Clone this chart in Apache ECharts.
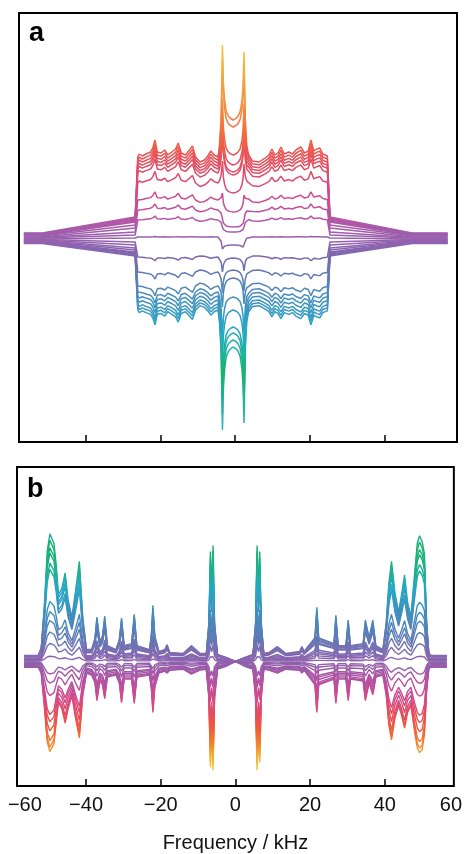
<!DOCTYPE html>
<html>
<head>
<meta charset="utf-8">
<script src="https://cdn.jsdelivr.net/npm/echarts@6/dist/echarts.min.js"></script>
<style>
  html, body { margin: 0; padding: 0; background: #fff; }
  #chart { width: 465px; height: 854px; }
</style>
</head>
<body>
<div id="chart"></div>
<script>
// ---------- panel a: one entry per trace, top to bottom (a.u., 0 = baseline) ----------
var plateauA = [82, 79, 76, 73, 70, 66, 56, 39, 29, 19, 2, -18, -33, -47, -53, -57, -61, -65, -68, -71];
var centreA  = [119, 112, 84, 74, 67, 64, 46, 27, 12, 7, -6, -19, -31, -39, -58, -71, -88, -94, -101, -108];
var peakLA   = [194, 180, 140, 125, 112, 107, 78, 46, 20, 12, -10, -33, -54, -68, -100, -123, -152, -163, -175, -191];
var peakRA   = [187, 173, 135, 120, 108, 103, 75, 44, 19, 12, -10, -32, -52, -65, -96, -118, -146, -157, -168, -184];
var wingA    = [22, 21, 20, 19, 18, 17, 14, 11, 7, 4, 1, -3, -6, -9, -11, -13, -14, -15, -16, -17];
var farA     = [6, 5.5, 5, 4.5, 4, 3.5, 3, 2, 1.5, 1, 0, -0.5, -1, -1.5, -2, -2.5, -3, -3.5, -4, -4.5];

// shared shape of panel a (frequencies in kHz)
var wingFreqLA = [-56.4, -51.5, -26.7];
var wingFreqRA = [25.3, 47.2, 56.7];
var peakFreqA = [-3.4, 2.35];
var centreFreqA = -0.55;
// ripple of the top trace on the plateau, relative to its level
var rippleFreqA = [-26.0, -25.6, -24.8, -23.8, -22.6, -22.0, -21.4, -20.8, -19.8, -18.8, -18.0, -16.9,
  -15.9, -15.2, -14.4, -13.3, -12.2, -11.4, -10.6, -9.4, -8.2, -7.3, -6.5, -5.6, -4.6,
  3.6, 4.6, 6.4, 8.0, 9.0, 9.8, 10.6, 11.4, 12.2, 13.1, 14.3, 15.3, 16.2, 17.5, 18.5, 19.5,
  20.2, 21.0, 21.8, 22.6, 23.4, 24.6];
var rippleA = [0, 3, 1, 3, 5, 9, 17, 5, 4, 7, 2, 5,
  8, 14, 4, 2, 7, 11, 0, -5, -3, 1, 6, 2, 0,
  2, -4, -5, -1, 2, 8, 2, 4, 10, 3, 5, 3, 7, 10, 4, 6,
  17, 6, 8, 9, 3, 1];
// fraction of the way from plateau to peak just outside each peak
var shoulderFreqLA = [-4.2, -3.75];
var shoulderLA = [0.1, 0.35];
var shoulderFreqRA = [2.7, 3.1];
var shoulderRA = [0.35, 0.1];
// fraction of the way from centre level to peak between the two peaks
var cupFreqA = [-3.15, -2.85, -2.4, -1.8, -1.2, -0.55, 0.1, 0.7, 1.3, 1.8, 2.1];
var cupA = [0.5, 0.28, 0.12, 0.05, 0.02, 0, 0.02, 0.05, 0.12, 0.28, 0.5];

// ---------- panel b: top and bottom traces, plus scale of every other trace ----------
var freqB = [-56.6, -52.8, -52.0, -51.2, -50.4, -49.7, -49.2, -48.6, -48.0, -47.4, -46.5, -45.6, -44.8,
  -43.8, -42.8, -41.8, -40.9, -39.9, -38.5, -37.6, -37.1, -36.3, -35.6, -35.0, -34.3, -32.0, -31.1,
  -30.5, -29.8, -27.8, -27.1, -26.4, -23.0, -22.5, -22.1, -21.6, -20.5, -18.9, -18.3, -17.6, -14.0,
  -11.8, -9.5, -7.8, -7.1, -6.7, -6.35, -6.0, -5.6, -4.8, -2.5, 0, 2.5, 4.7, 5.4, 5.8, 6.15, 6.5,
  6.9, 7.6, 9.0, 11.2, 13.5, 17.2, 17.8, 18.4, 21.3, 21.8, 22.3, 26.4, 26.9, 27.5, 29.6, 30.2, 30.8,
  34.2, 34.8, 35.8, 36.8, 37.6, 39.5, 40.4, 41.1, 41.8, 42.7, 43.7, 44.5, 45.3, 46.1, 47.0, 48.0,
  48.7, 49.3, 50.0, 50.6, 51.2, 51.8, 52.5, 56.6];
var topB = [6, 6, 14, 55, 112, 130, 132, 120, 98, 68, 74, 90, 62,
  45, 72, 102, 45, 12, 12, 24, 45, 20, 26, 46, 16, 12, 22,
  44, 16, 18, 48, 16, 12, 28, 57, 26, 10, 12, 17, 9, 8,
  16, 8, 8, 40, 112, 70, 118, 40, 7, 4, 0, 4, 7, 40, 118, 70, 112,
  40, 8, 9, 15, 8, 10, 15, 10, 24, 55, 24, 18, 47, 16, 16, 42, 16,
  18, 42, 24, 42, 16, 12, 40, 80, 102, 70, 50, 68, 88, 60, 45, 90,
  120, 128, 122, 110, 40, 8, 6, 6];
var bottomB = [-6, -6, -12, -45, -82, -92, -93, -84, -62, -42, -48, -63, -48,
  -35, -58, -78, -35, -12, -14, -22, -40, -20, -24, -38, -16, -14, -22,
  -42, -18, -18, -43, -16, -14, -28, -52, -26, -12, -10, -12, -9, -8,
  -13, -9, -8, -38, -108, -70, -111, -38, -8, -5, 0, -5, -8, -38, -111, -70, -103,
  -38, -8, -9, -12, -8, -9, -12, -9, -24, -52, -24, -18, -43, -18, -18, -40, -18,
  -20, -40, -22, -34, -16, -14, -35, -65, -80, -58, -45, -55, -68, -52, -45, -72,
  -88, -93, -90, -75, -30, -7, -6, -6];
var upB = [1, 0.95, 0.89, 0.85, 0.77, 0.72, 0.47, 0.39, 0.32, 0.23, 0.14, 0.04];
var downB = [0.14, 0.24, 0.38, 0.59, 0.67, 0.77, 0.88, 0.95, 1];

// axis ticks and labels
var ticks = [-40, -20, 0, 20, 40];
var labelPosB = [-56.4, -40, -20, 0, 20, 40, 57.7];
var labelTextB = ['\u221260', '\u221240', '\u221220', '0', '20', '40', '60'];

var font = '"Liberation Sans", Arial, Helvetica, sans-serif';

function traceA(i) {
  var p = plateauA[i], s = p / plateauA[0];
  var pts = [[wingFreqLA[0], farA[i]], [wingFreqLA[1], farA[i]], [wingFreqLA[2], wingA[i]]];
  rippleFreqA.forEach(function (f, k) { if (f < 0) pts.push([f, p + rippleA[k] * s]); });
  shoulderFreqLA.forEach(function (f, k) { pts.push([f, p + shoulderLA[k] * (peakLA[i] - p)]); });
  pts.push([peakFreqA[0], peakLA[i]]);
  cupFreqA.forEach(function (f, k) {
    var pk = f < centreFreqA ? peakLA[i] : peakRA[i];
    pts.push([f, centreA[i] + cupA[k] * (pk - centreA[i])]);
  });
  pts.push([peakFreqA[1], peakRA[i]]);
  shoulderFreqRA.forEach(function (f, k) { pts.push([f, p + shoulderRA[k] * (peakRA[i] - p)]); });
  rippleFreqA.forEach(function (f, k) { if (f > 0) pts.push([f, p + rippleA[k] * s]); });
  pts.push([wingFreqRA[0], wingA[i]], [wingFreqRA[1], farA[i]], [wingFreqRA[2], farA[i]]);
  return pts;
}

function traceB(profile, k) {
  return freqB.map(function (f, j) { return [f, profile[j] * k]; });
}

var G = echarts.graphic.LinearGradient;
var colA = new G(0, 13, 0, 442, [
  { offset: 0.075, color: '#f4c430' }, { offset: 0.156, color: '#f6a53b' },
  { offset: 0.238, color: '#f3843b' }, { offset: 0.296, color: '#ef6341' },
  { offset: 0.336, color: '#e84f55' }, { offset: 0.389, color: '#dc4a74' },
  { offset: 0.436, color: '#cb4c93' }, { offset: 0.483, color: '#b455a6' },
  { offset: 0.527, color: '#9760ae' }, { offset: 0.576, color: '#7769b0' },
  { offset: 0.627, color: '#5682b8' }, { offset: 0.681, color: '#3c95bf' },
  { offset: 0.739, color: '#28a7c6' }, { offset: 0.795, color: '#1db39a' },
  { offset: 0.835, color: '#15b36b' }, { offset: 0.895, color: '#1db39c' },
  { offset: 0.972, color: '#2cadc9' }
], true);
var colB = new G(0, 467, 0, 792, [
  { offset: 0.203, color: '#2aa8b5' }, { offset: 0.24, color: '#17b06c' },
  { offset: 0.317, color: '#1bb08e' }, { offset: 0.378, color: '#27a7c5' },
  { offset: 0.446, color: '#3c8fbf' }, { offset: 0.526, color: '#5e7ab5' },
  { offset: 0.582, color: '#8566b0' }, { offset: 0.618, color: '#995ba9' },
  { offset: 0.668, color: '#bb4e9f' }, { offset: 0.717, color: '#d44a85' },
  { offset: 0.76, color: '#e64c5c' }, { offset: 0.803, color: '#ef5a3a' },
  { offset: 0.846, color: '#f27e2e' }, { offset: 0.886, color: '#f4aa32' },
  { offset: 0.932, color: '#f2c632' }
], true);

var series = [];
plateauA.forEach(function (v, i) {
  series.push({ type: 'line', xAxisIndex: 0, yAxisIndex: 0, data: traceA(i), symbol: 'none',
    silent: true, lineStyle: { color: colA, width: 1.5 } });
});
upB.forEach(function (k) {
  series.push({ type: 'line', xAxisIndex: 1, yAxisIndex: 1, data: traceB(topB, k), symbol: 'none',
    silent: true, lineStyle: { color: colB, width: 1.4 } });
});
downB.forEach(function (k) {
  series.push({ type: 'line', xAxisIndex: 1, yAxisIndex: 1, data: traceB(bottomB, k), symbol: 'none',
    silent: true, lineStyle: { color: colB, width: 1.4 } });
});

var chart = echarts.init(document.getElementById('chart'));
chart.setOption({
  animation: false,
  grid: [
    { left: 19, top: 13, width: 438, height: 429, show: true, borderColor: '#000', borderWidth: 2 },
    { left: 17, top: 467, width: 438, height: 325, show: true, borderColor: '#000', borderWidth: 2 }
  ],
  xAxis: [
    { gridIndex: 0, type: 'value', min: -57.7, max: 59.2, position: 'bottom',
      axisLine: { show: false, onZero: false }, splitLine: { show: false },
      axisTick: { inside: true, length: 7, customValues: ticks, lineStyle: { color: '#000', width: 1.5 } },
      axisLabel: { show: false } },
    { gridIndex: 1, type: 'value', min: -58.5, max: 58.5, position: 'bottom',
      axisLine: { show: false, onZero: false }, splitLine: { show: false },
      axisTick: { inside: true, length: 7, customValues: ticks, lineStyle: { color: '#000', width: 1.5 } },
      axisLabel: { customValues: labelPosB, margin: 9, color: '#111', fontSize: 20, fontFamily: font,
        formatter: function (v) {
          var best = 0;
          labelPosB.forEach(function (p, i) { if (Math.abs(p - v) < Math.abs(labelPosB[best] - v)) best = i; });
          return labelTextB[best];
        } },
      name: 'Frequency / kHz', nameLocation: 'middle', nameGap: 47,
      nameTextStyle: { color: '#111', fontSize: 20, fontFamily: font } }
  ],
  yAxis: [
    { gridIndex: 0, type: 'value', min: -203, max: 226, show: false },
    { gridIndex: 1, type: 'value', min: -127, max: 198, show: false }
  ],
  series: series,
  graphic: [
    { type: 'text', x: 29, y: 47, style: { text: 'a', fill: '#000', font: 'bold 27px ' + font, verticalAlign: 'bottom' } },
    { type: 'text', x: 27, y: 503, style: { text: 'b', fill: '#000', font: 'bold 27px ' + font, verticalAlign: 'bottom' } }
  ]
});
</script>
</body>
</html>
